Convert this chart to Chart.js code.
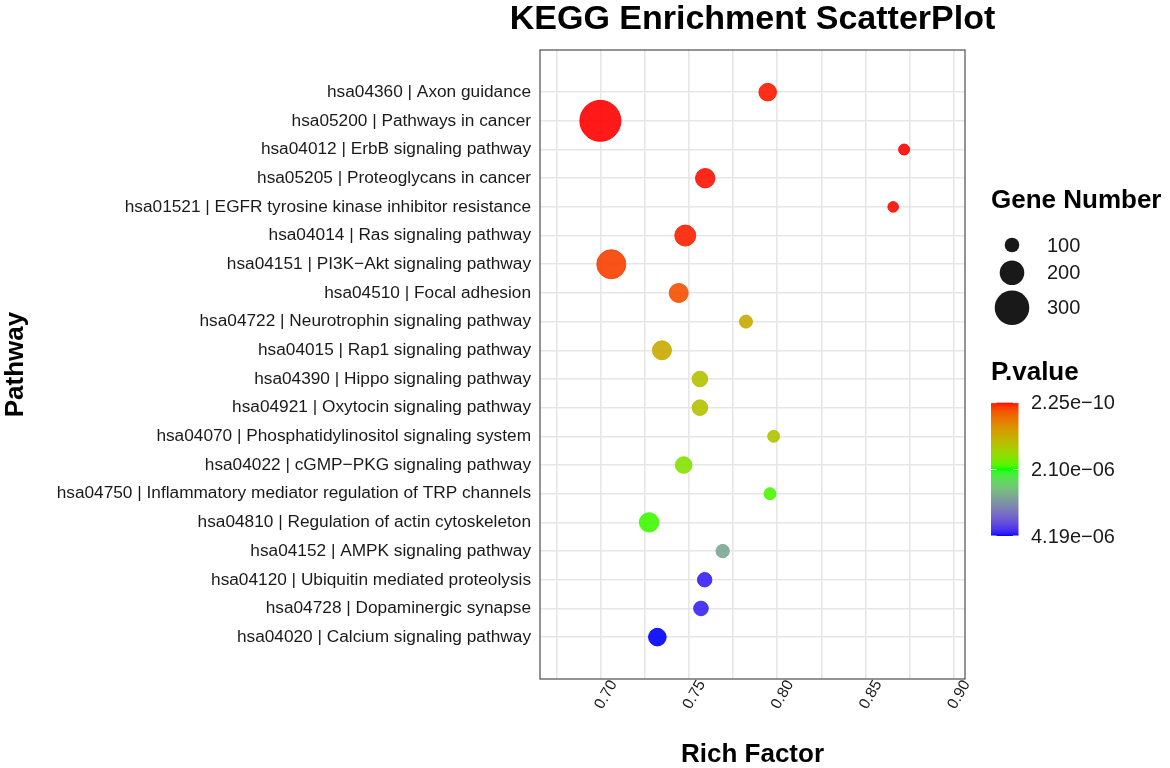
<!DOCTYPE html>
<html>
<head>
<meta charset="utf-8">
<script src="https://cdn.jsdelivr.net/npm/chart.js@4.4.1/dist/chart.umd.min.js"></script>
<style>
  html, body { margin: 0; padding: 0; background: #ffffff; }
  canvas { display: block; }
</style>
</head>
<body>
<canvas id="c" width="1170" height="768" style="width:1170px;height:768px"></canvas>
<script>
// ---------------- data ----------------
const pathways = [
  'hsa04360 | Axon guidance',
  'hsa05200 | Pathways in cancer',
  'hsa04012 | ErbB signaling pathway',
  'hsa05205 | Proteoglycans in cancer',
  'hsa01521 | EGFR tyrosine kinase inhibitor resistance',
  'hsa04014 | Ras signaling pathway',
  'hsa04151 | PI3K\u2212Akt signaling pathway',
  'hsa04510 | Focal adhesion',
  'hsa04722 | Neurotrophin signaling pathway',
  'hsa04015 | Rap1 signaling pathway',
  'hsa04390 | Hippo signaling pathway',
  'hsa04921 | Oxytocin signaling pathway',
  'hsa04070 | Phosphatidylinositol signaling system',
  'hsa04022 | cGMP\u2212PKG signaling pathway',
  'hsa04750 | Inflammatory mediator regulation of TRP channels',
  'hsa04810 | Regulation of actin cytoskeleton',
  'hsa04152 | AMPK signaling pathway',
  'hsa04120 | Ubiquitin mediated proteolysis',
  'hsa04728 | Dopaminergic synapse',
  'hsa04020 | Calcium signaling pathway'
];
const richFactor = [
  0.7946, 0.6998, 0.8719, 0.7592, 0.8657, 0.7479, 0.7060, 0.7442, 0.7823, 0.7347,
  0.7562, 0.7562, 0.7980, 0.7470, 0.7959, 0.7274, 0.7691, 0.7589, 0.7568, 0.7321
];
const geneNumber = [
  140, 374, 74, 158, 70, 174, 254, 154, 94, 154,
  120, 120, 84, 130, 84, 158, 98, 108, 110, 140
];
const pValue = [
  3.1e-08, 2.25e-10, 5.2e-09, 1.9e-08, 1.1e-08, 4.4e-08, 1.57e-07, 2.4e-07, 1.05e-06, 1.04e-06,
  1.30e-06, 1.30e-06, 1.33e-06, 1.72e-06, 1.99e-06, 2.02e-06, 2.96e-06, 4.09e-06, 4.08e-06, 4.19e-06
];
const xGridValues = [0.675, 0.700, 0.725, 0.750, 0.775, 0.800, 0.825, 0.850, 0.875, 0.900];
const xLabelValues = [0.70, 0.75, 0.80, 0.85, 0.90];
const sizeLegendValues = [100, 200, 300];
const colorbarValues = [2.25e-10, 2.10e-06, 4.19e-06];
const chartTitle = 'KEGG Enrichment ScatterPlot';
const xTitle = 'Rich Factor';
const yTitle = 'Pathway';
const sizeLegendTitle = 'Gene Number';
const colorLegendTitle = 'P.value';

// ---------------- style helpers ----------------
const FONT = '"Liberation Sans", Arial, Helvetica, sans-serif';
Chart.defaults.font.family = FONT;

const sizeScale = n => 2.3 + 0.05 * n;   // radius in px

function srgbToLinear(c) { c /= 255; return c <= 0.04045 ? c / 12.92 : Math.pow((c + 0.055) / 1.055, 2.4); }
function linearToSrgb(c) {
  c = c <= 0.0031308 ? 12.92 * c : 1.055 * Math.pow(Math.max(c, 0), 1 / 2.4) - 0.055;
  return Math.round(Math.max(0, Math.min(1, c)) * 255);
}
function rgbToLab(rgb) {
  const R = srgbToLinear(rgb[0]), G = srgbToLinear(rgb[1]), B = srgbToLinear(rgb[2]);
  const X = (0.4124 * R + 0.3576 * G + 0.1805 * B) / 0.95047;
  const Y = (0.2126 * R + 0.7152 * G + 0.0722 * B);
  const Z = (0.0193 * R + 0.1192 * G + 0.9505 * B) / 1.08883;
  const f = t => t > 0.008856 ? Math.cbrt(t) : 7.787 * t + 16 / 116;
  const fx = f(X), fy = f(Y), fz = f(Z);
  return [116 * fy - 16, 500 * (fx - fy), 200 * (fy - fz)];
}
function labToRgb(lab) {
  const fy = (lab[0] + 16) / 116, fx = fy + lab[1] / 500, fz = fy - lab[2] / 200;
  const finv = t => (t * t * t > 0.008856 ? t * t * t : (t - 16 / 116) / 7.787);
  const X = 0.95047 * finv(fx), Y = finv(fy), Z = 1.08883 * finv(fz);
  const R = 3.2406 * X - 1.5372 * Y - 0.4986 * Z;
  const G = -0.9689 * X + 1.8758 * Y + 0.0415 * Z;
  const B = 0.0557 * X - 0.2040 * Y + 1.0570 * Z;
  return [linearToSrgb(R), linearToSrgb(G), linearToSrgb(B)];
}
const LAB_STOPS = [[255, 0, 0], [0, 255, 0], [0, 0, 255]].map(rgbToLab);
const pMin = Math.min(...pValue), pMax = Math.max(...pValue);
function colorFor(p, alpha) {
  let t = (p - pMin) / (pMax - pMin);
  t = Math.max(0, Math.min(1, t));
  let a, b, f;
  if (t <= 0.5) { a = LAB_STOPS[0]; b = LAB_STOPS[1]; f = t / 0.5; }
  else { a = LAB_STOPS[1]; b = LAB_STOPS[2]; f = (t - 0.5) / 0.5; }
  const lab = [0, 1, 2].map(k => a[k] + (b[k] - a[k]) * f);
  const rgb = labToRgb(lab);
  return `rgba(${rgb[0]},${rgb[1]},${rgb[2]},${alpha})`;
}
function fmtExp(v) {
  const parts = v.toExponential(2).split('e');
  const n = parseInt(parts[1], 10);
  return parts[0] + 'e' + (n < 0 ? '\u2212' : '+') + String(Math.abs(n)).padStart(2, '0');
}

// ---------------- plugins ----------------
const frameAndLegend = {
  id: 'frameAndLegend',
  afterDatasetsDraw(chart) {
    const { ctx, chartArea: a } = chart;
    ctx.save();
    ctx.strokeStyle = '#4d4d4d';
    ctx.lineWidth = 1.2;
    ctx.strokeRect(a.left, a.top, a.right - a.left, a.bottom - a.top);
    ctx.restore();
  },
  afterDraw(chart) {
    const { ctx, chartArea: a } = chart;
    ctx.save();
    // title
    ctx.fillStyle = '#000';
    ctx.font = `bold 34px ${FONT}`;
    ctx.textAlign = 'center';
    ctx.textBaseline = 'middle';
    ctx.fillText(chartTitle, (a.left + a.right) / 2, 20);

    // size legend
    ctx.textAlign = 'left';
    ctx.font = `bold 26px ${FONT}`;
    ctx.fillText(sizeLegendTitle, 991, 201);
    const keyY = [245, 272.7, 307.7];
    sizeLegendValues.forEach((v, i) => {
      ctx.beginPath();
      ctx.arc(1012, keyY[i], sizeScale(v), 0, Math.PI * 2);
      ctx.fillStyle = 'rgba(0,0,0,0.9)';
      ctx.fill();
      ctx.fillStyle = '#1a1a1a';
      ctx.font = `20px ${FONT}`;
      ctx.fillText(String(v), 1047, keyY[i] + 1);
    });

    // colour legend
    ctx.fillStyle = '#000';
    ctx.font = `bold 26px ${FONT}`;
    ctx.fillText(colorLegendTitle, 991, 373);
    const bx = 991, by = 402.7, bw = 27.5, bh = 133.3;
    const grad = ctx.createLinearGradient(0, by, 0, by + bh);
    const N = 60;
    for (let i = 0; i <= N; i++) {
      grad.addColorStop(i / N, colorFor(pMin + (pMax - pMin) * i / N, 1));
    }
    ctx.fillStyle = grad;
    ctx.fillRect(bx, by, bw, bh);
    ctx.font = `20px ${FONT}`;
    ctx.strokeStyle = '#ffffff';
    ctx.lineWidth = 1;
    colorbarValues.forEach(v => {
      const y = by + (v - pMin) / (pMax - pMin) * bh;
      ctx.beginPath();
      ctx.moveTo(bx, y); ctx.lineTo(bx + 5.5, y);
      ctx.moveTo(bx + bw - 5.5, y); ctx.lineTo(bx + bw, y);
      ctx.stroke();
      ctx.fillStyle = '#1a1a1a';
      ctx.fillText(fmtExp(v), 1031, y + 1);
    });
    ctx.restore();
  }
};

// ---------------- chart ----------------
const points = richFactor.map((x, i) => ({ x: x, y: i }));
const gridStyle = { color: '#e6e6e6', lineWidth: 1.6, drawTicks: false };

new Chart(document.getElementById('c'), {
  type: 'scatter',
  data: {
    datasets: [{
      data: points,
      backgroundColor: ctx => colorFor(pValue[ctx.dataIndex], 0.9),
      borderColor: ctx => colorFor(pValue[ctx.dataIndex], 0.9),
      borderWidth: 1,
      pointRadius: ctx => sizeScale(geneNumber[ctx.dataIndex]) - 0.5,
      pointHoverRadius: ctx => sizeScale(geneNumber[ctx.dataIndex]) - 0.5
    }]
  },
  options: {
    responsive: false,
    animation: false,
    devicePixelRatio: 1,
    layout: { padding: { left: 0, right: 205, top: 50, bottom: 0 } },
    plugins: { legend: { display: false }, title: { display: false }, tooltip: { enabled: false } },
    scales: {
      x: {
        type: 'linear',
        min: 0.6656, max: 0.9064,
        afterBuildTicks: s => { s.ticks = xGridValues.map(v => ({ value: v })); },
        afterFit: s => { s.height = 89; },
        grid: gridStyle,
        border: { display: false },
        ticks: {
          autoSkip: false,
          minRotation: 60, maxRotation: 60,
          labelOffset: 13,
          padding: -2,
          color: '#1a1a1a',
          font: { size: 15.5 },
          callback: v => xLabelValues.some(l => Math.abs(l - v) < 1e-6) ? Number(v).toFixed(2) : ''
        },
        title: { display: true, text: xTitle, color: '#000', font: { size: 26, weight: 'bold', lineHeight: 1 }, padding: { top: 0, bottom: 0 } }
      },
      y: {
        type: 'linear',
        reverse: true,
        min: -1.47, max: 20.46,
        afterBuildTicks: s => { s.ticks = pathways.map((_, i) => ({ value: i })); },
        afterFit: s => { s.width = 540; },
        grid: gridStyle,
        border: { display: false },
        ticks: {
          autoSkip: false,
          padding: 9,
          color: '#1a1a1a',
          font: { size: 17.25 },
          callback: v => pathways[Math.round(v)]
        },
        title: { display: true, text: yTitle, color: '#000', font: { size: 26, weight: 'bold', lineHeight: 1.2 }, padding: { top: 0, bottom: 0 } }
      }
    }
  },
  plugins: [frameAndLegend]
});
</script>
</body>
</html>
